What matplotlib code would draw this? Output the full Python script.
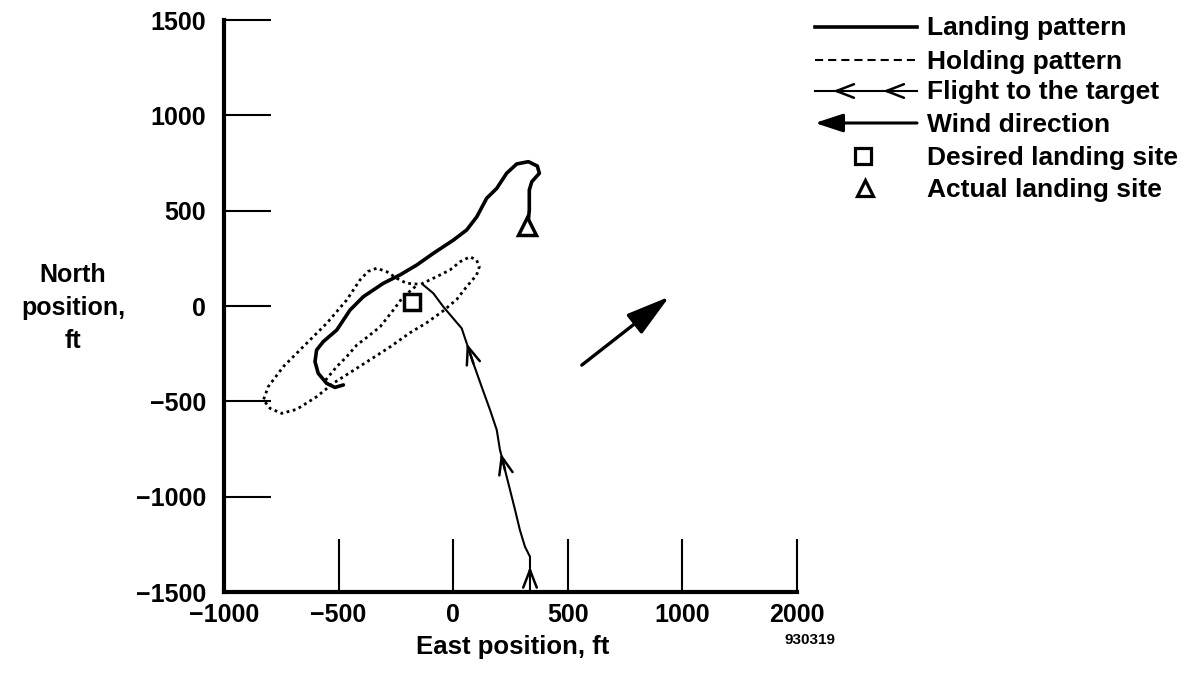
import matplotlib
matplotlib.use('Agg')
import matplotlib.pyplot as plt

plt.rcParams['font.family'] = ['Liberation Sans', 'DejaVu Sans']
plt.rcParams['font.weight'] = 'bold'

# ---------------- data (ft) ----------------
landing_x = [-479, -516, -552, -589, -603, -596, -567, -508, -450, -392, -305, -232,
             -159, -87, 0, 59, 103, 146, 190, 233, 277, 328, 367, 376, 343, 332, 332, 328]
landing_y = [-414, -427, -406, -353, -292, -231, -187, -126, -21, 49, 119, 163,
             215, 276, 345, 399, 468, 565, 617, 696, 745, 757, 734, 696, 652, 608, 503, 451]

holding_x = [-140, -72, -14, 30, 73, 102, 114, 102, 59, 15, -43, -116, -188, -276, -334,
             -450, -523, -596, -683, -748, -799, -828, -807, -741, -654, -552, -465, -407,
             -372, -334, -290, -246, -203, -155, -174, -218, -261, -319, -377, -421, -465,
             -508, -545, -559]
holding_y = [115, 154, 189, 232, 258, 241, 206, 162, 102, 34, -25, -88, -140, -215, -260,
             -349, -405, -476, -542, -563, -537, -493, -423, -318, -213, -91, 31, 136,
             181, 198, 180, 145, 119, 115, 92, 49, -21, -109, -165, -205, -266,
             -318, -371, -393]

flight_x = [335, 335, 335, 335, 313, 291, 270, 248, 226, 208, 204, 190, 161, 124, 88, 59,
            37, 0, -43, -87, -130]
flight_y = [-1500, -1402, -1367, -1315, -1262, -1175, -1070, -965, -860, -773, -755, -650,
            -546, -423, -301, -196, -117, -65, -4, 67, 110]
flight_arrow_idx = [2, 9, 15]

wind_tail = (561, -310)
wind_tip = (943, 49)

desired_site = (-178, 22)
actual_site = (320, 420)

x_ticks = [-1000, -500, 0, 500, 1000, 1500]
x_tick_labels = ['\u22121000', '\u2212500', '0', '500', '1000', '2000']
y_ticks = [-1500, -1000, -500, 0, 500, 1000, 1500]
y_tick_labels = ['\u22121500', '\u22121000', '\u2212500', '0', '500', '1000', '1500']

legend_labels = ['Landing pattern', 'Holding pattern', 'Flight to the target',
                 'Wind direction', 'Desired landing site', 'Actual landing site']

# ---------------- figure ----------------
W, H = 1192, 678
fig = plt.figure(figsize=(W / 100, H / 100), dpi=100)
ax = fig.add_axes([224 / W, 1 - 592 / H, (797 - 224) / W, (592 - 20) / H])
ax.set_xlim(-1000, 1500)
ax.set_ylim(-1500, 1500)
for s in ['top', 'right']:
    ax.spines[s].set_visible(False)
for s in ['left', 'bottom']:
    ax.spines[s].set_linewidth(3)
ax.set_xticks(x_ticks)
ax.set_xticklabels(x_tick_labels)
ax.set_yticks(y_ticks)
ax.set_yticklabels(y_tick_labels)
ax.tick_params(axis='x', direction='in', length=38, width=1.5, pad=8, labelsize=18)
ax.tick_params(axis='y', direction='in', length=34, width=1.5, pad=13, labelsize=18)

# landing pattern
ax.plot(landing_x, landing_y, color='black', lw=2.6, solid_capstyle='round',
        solid_joinstyle='round')
# holding pattern
ax.plot(holding_x, holding_y, color='black', lw=2.0, linestyle=(0, (1, 1.3)))
# flight
ax.plot(flight_x, flight_y, color='black', lw=1.5, clip_on=False)
for i in flight_arrow_idx:
    ax.annotate('', xy=(flight_x[i], flight_y[i]), xytext=(flight_x[i - 1], flight_y[i - 1]),
                arrowprops=dict(arrowstyle='->,head_length=0.9,head_width=0.35',
                                lw=1.8, color='black', shrinkA=0, shrinkB=0,
                                mutation_scale=14))
# wind
ax.annotate('', xy=wind_tip, xytext=wind_tail,
            arrowprops=dict(arrowstyle='-|>,head_length=1.35,head_width=0.38',
                            lw=2.4, color='black', shrinkA=0, shrinkB=0,
                            mutation_scale=20))
# sites
ax.plot(*desired_site, marker='s', ms=12, mew=2.5, mfc='white', mec='black', zorder=5)
ax.plot(*actual_site, marker='^', ms=13, mew=2.5, mfc='white', mec='black', zorder=5)

# axis labels
fig.text(513 / W, 1 - 654 / H, 'East position, ft', ha='center', va='baseline', fontsize=18.5)
fig.text(73 / W, 1 - 308 / H, 'North\nposition,\nft', ha='center', va='center',
         multialignment='center', fontsize=18, linespacing=1.45)
fig.text(810 / W, 1 - 644 / H, '930319', ha='center', va='baseline', fontsize=11)

# ---------------- legend (drawn in figure pixels) ----------------
lax = fig.add_axes([0, 0, 1, 1])
lax.set_xlim(0, W)
lax.set_ylim(H, 0)
lax.axis('off')
lx0, lx1, tx = 815, 917, 927
rows = [27, 60, 91, 123, 156, 188]
lax.plot([lx0, lx1], [rows[0]] * 2, color='black', lw=2.6)
lax.plot([lx0, lx1], [rows[1]] * 2, color='black', lw=1.5, linestyle=(0, (3.9, 2.4)))
lax.plot([lx0, lx1], [rows[2]] * 2, color='black', lw=1.5)
for ax_x in (833, 883):
    lax.annotate('', xy=(ax_x, rows[2]), xytext=(ax_x + 10, rows[2]),
                 arrowprops=dict(arrowstyle='->,head_length=0.9,head_width=0.35',
                                 lw=1.8, color='black', shrinkA=0, shrinkB=0,
                                 mutation_scale=14))
lax.annotate('', xy=(lx0, rows[3]), xytext=(lx1, rows[3]),
             arrowprops=dict(arrowstyle='-|>,head_length=0.85,head_width=0.28',
                             lw=2.2, color='black', shrinkA=0, shrinkB=0,
                             mutation_scale=20))
lax.plot(863, rows[4], marker='s', ms=11, mew=2.3, mfc='white', mec='black')
lax.plot(865, rows[5], marker='^', ms=12, mew=2.3, mfc='white', mec='black')
for lab, r in zip(legend_labels, rows):
    lax.text(tx, r + 8.5, lab, ha='left', va='baseline', fontsize=19)

fig.savefig('out.png', dpi=100)
